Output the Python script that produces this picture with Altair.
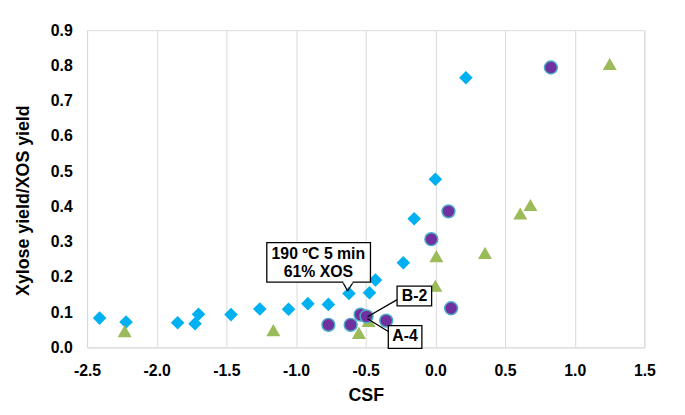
import altair as alt
import pandas as pd

# Series 1 (blue diamonds)
dia_x = [-2.41, -2.22, -1.85, -1.725, -1.70, -1.467, -1.26, -1.054, -0.915, -0.768,
         -0.62, -0.473, -0.43, -0.23, -0.152, 0.0, 0.219]
dia_y = [0.083, 0.072, 0.070, 0.067, 0.094, 0.093, 0.109, 0.108, 0.124, 0.122,
         0.153, 0.155, 0.191, 0.240, 0.365, 0.477, 0.765]

# Series 2 (purple circles)
cir_x = [-0.768, -0.608, -0.537, -0.494, -0.353, -0.029, 0.094, 0.113, 0.829]
cir_y = [0.064, 0.064, 0.093, 0.088, 0.076, 0.307, 0.386, 0.111, 0.794]

# Series 3 (green triangles)
tri_x = [-2.23, -1.163, -0.549, -0.48, 0.0, 0.007, 0.356, 0.609, 0.682, 1.251]
tri_y = [0.046, 0.049, 0.041, 0.075, 0.175, 0.259, 0.268, 0.380, 0.404, 0.804]

x_ticks = [-2.5, -2.0, -1.5, -1.0, -0.5, 0.0, 0.5, 1.0, 1.5]
y_ticks = [0.0, 0.1, 0.2, 0.3, 0.4, 0.5, 0.6, 0.7, 0.8, 0.9]

FONT = "Liberation Sans"

dia = pd.DataFrame({"x": dia_x, "y": dia_y})
cir = pd.DataFrame({"x": cir_x, "y": cir_y})
tri = pd.DataFrame({"x": tri_x, "y": tri_y})

xs = alt.Scale(domain=[-2.5, 1.5], nice=False)
ys = alt.Scale(domain=[0, 0.9], nice=False)

X = alt.X("x:Q", scale=xs, title="CSF",
          axis=alt.Axis(values=x_ticks, format=".1f", grid=True, gridColor="#D9D9D9",
                        domainColor="#D9D9D9", ticks=False, labelPadding=15,
                        labelFlush=False, labelOverlap=False,
                        labelFontSize=16, labelFont=FONT, labelFontWeight="bold",
                        labelColor="#000000", titleFont=FONT, titleFontSize=18,
                        titleFontWeight="bold", titleColor="#000000",
                        titleY=49, titleBaseline="middle"))
Y = alt.Y("y:Q", scale=ys, title="Xylose yield/XOS yield",
          axis=alt.Axis(values=y_ticks, format=".1f", grid=False,
                        domainColor="#D9D9D9", ticks=False, labelPadding=15,
                        labelFlush=False, labelOverlap=False,
                        labelFontSize=16, labelFont=FONT, labelFontWeight="bold",
                        labelColor="#000000", titleFont=FONT, titleFontSize=18,
                        titleFontWeight="bold", titleColor="#000000",
                        titleX=-64, titleY=172, titleBaseline="middle", titleAngle=-90,
                        titleAlign="center"))

base_dia = alt.Chart(dia).mark_point(shape="diamond", filled=True, size=190,
                                      color="#00B0F0", opacity=1).encode(x=X, y=Y)
base_tri = alt.Chart(tri).mark_point(shape="triangle-up", filled=True, size=200,
                                      color="#9BBB59", opacity=1).encode(x=X, y=Y)
base_cir = alt.Chart(cir).mark_point(shape="circle", filled=True, size=170,
                                      fill="#7030A0", stroke="#4BACC6", strokeWidth=1.5,
                                      opacity=1).encode(x=X, y=Y)

# Callout boxes
boxes = pd.DataFrame({
    "x": [-1.21, -0.275, -0.338],
    "x2": [-0.466, -0.027, -0.097],
    "y": [0.297, 0.174, 0.062],
    "y2": [0.185, 0.118, -0.003],
})
box_layer = alt.Chart(boxes).mark_rect(fill="white", stroke="black", strokeWidth=1.3).encode(
    x=X, x2="x2:Q", y=Y, y2="y2:Q")

# Leader lines (B-2 and A-4)
leaders = pd.DataFrame({
    "x": [-0.268, -0.338],
    "y": [0.137, 0.045],
    "x2": [-0.487, -0.487],
    "y2": [0.087, 0.081],
})
# callout tail of first box
tail = pd.DataFrame({
    "x": [-0.665, -0.59],
    "y": [0.185, 0.185],
    "x2": [-0.63, -0.63],
    "y2": [0.16, 0.16],
})
lead_layer = alt.Chart(leaders).mark_rule(color="black", strokeWidth=1.3).encode(
    x=X, y=Y, x2="x2:Q", y2="y2:Q")
tail_layer = alt.Chart(tail).mark_rule(color="black", strokeWidth=1.3).encode(
    x=X, y=Y, x2="x2:Q", y2="y2:Q")
tail_cover = alt.Chart(pd.DataFrame({"x": [-0.66], "x2": [-0.595], "y": [0.185]})).mark_rule(
    color="white", strokeWidth=2.5).encode(x=X, x2="x2:Q", y=Y)

labels = pd.DataFrame({
    "x": [-0.84, -0.84, -0.15, -0.218],
    "y": [0.264, 0.213, 0.146, 0.031],
    "t": ["190 ºC 5 min", "61% XOS", "B-2", "A-4"],
})
text_layer = alt.Chart(labels).mark_text(font=FONT, fontSize=16, fontWeight="bold",
                                         color="black", baseline="middle", align="center").encode(
    x=X, y=Y, text="t:N")

chart = alt.layer(base_dia, base_tri, base_cir, lead_layer, tail_layer, box_layer,
                  tail_cover, text_layer).properties(
    width=564, height=321,
    autosize=alt.AutoSizeParams(type="none"),
    padding={"left": 80, "top": 20, "right": 33, "bottom": 66},
).configure_view(stroke=None).configure(
    background="white",
    locale={"number": {"decimal": ".", "thousands": ",", "grouping": [3],
                       "currency": ["$", ""], "minus": "-"}},
)

chart.save("out.html", embed_options={"renderer": "svg", "actions": False})
